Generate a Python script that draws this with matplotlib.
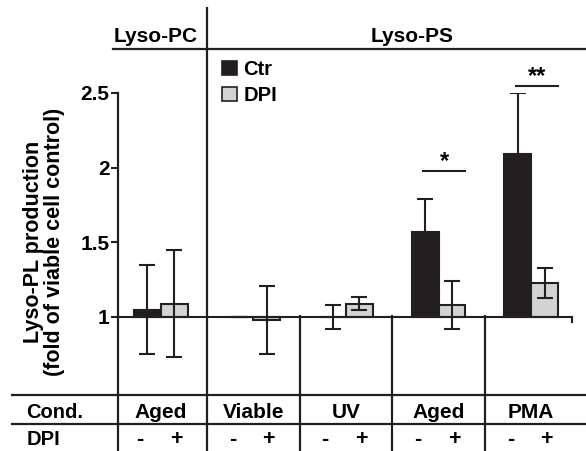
import matplotlib.pyplot as plt
from matplotlib.lines import Line2D
from matplotlib.patches import Patch
from matplotlib.transforms import blended_transform_factory

plt.rcParams['font.family'] = ['Liberation Sans', 'DejaVu Sans']
plt.rcParams['font.weight'] = 'bold'

# Data (fold of viable cell control)
conditions = ["Aged", "Viable", "UV", "Aged", "PMA"]
ctr_mean = [1.05, 1.00, 1.00, 1.57, 2.09]
ctr_err = [0.30, 0.00, 0.08, 0.22, 0.41]
dpi_mean = [1.09, 0.98, 1.09, 1.08, 1.23]
dpi_err = [0.36, 0.23, 0.045, 0.16, 0.10]
dpi_signs = ["-", "+"]
yticks = [1, 1.5, 2, 2.5]
ytick_labels = ["1", "1.5", "2", "2.5"]
signif_groups = [3, 4]
signif_labels = ["*", "**"]
signif_heights = [1.98, 2.55]

DARK = "#231f20"
LIGHT = "#d1d3d4"
W, H = 586, 451


def fx(p):
    return p / W


def fy(p):
    return 1 - p / H


fig = plt.figure(figsize=(W / 100, H / 100), dpi=100)
ax = fig.add_axes([fx(118), 0, fx(572) - fx(118), fy(93)])
ax.set_xlim(-0.462, 4.44)
ax.set_ylim(0.1025, 2.5)

x = list(range(len(conditions)))
bw = 0.29
x_ctr = [i - bw / 2 for i in x]
x_dpi = [i + bw / 2 for i in x]

ax.bar(x_ctr, [m - 1 for m in ctr_mean], bw, bottom=1, color=DARK,
       edgecolor=DARK, linewidth=1.5, zorder=2)
ax.bar(x_dpi, [m - 1 for m in dpi_mean], bw, bottom=1, color=LIGHT,
       edgecolor=DARK, linewidth=1.5, zorder=2)
ax.errorbar(x_ctr, ctr_mean, yerr=ctr_err, fmt="none", ecolor=DARK,
            elinewidth=1.5, capsize=6, capthick=1.5, zorder=3)
ax.errorbar(x_dpi, dpi_mean, yerr=dpi_err, fmt="none", ecolor=DARK,
            elinewidth=1.5, capsize=6, capthick=1.5, zorder=3)

# baseline at 1 + little end tick
x0, x1 = ax.get_xlim()
y0, y1 = ax.get_ylim()
ax.plot([x0, x1], [1, 1], color=DARK, lw=1.5, clip_on=False, zorder=4)
ax.plot([x1, x1], [1, 0.965], color=DARK, lw=1.5, clip_on=False, zorder=4)

# axes styling
for s in ["top", "right", "bottom"]:
    ax.spines[s].set_visible(False)
ax.spines["left"].set_linewidth(1.6)
ax.spines["left"].set_color(DARK)
ax.set_xticks([])
ax.set_yticks(yticks)
ax.set_yticklabels(ytick_labels, fontsize=15, fontweight="bold")
ax.tick_params(axis="y", length=5, width=1.5, color=DARK, pad=1)

# group dividers
trans = blended_transform_factory(ax.transData, fig.transFigure)
ax.add_line(Line2D([0.5, 0.5], [fy(8), 0], transform=trans, color=DARK,
                   lw=1.6, clip_on=False))
ax.vlines([1.5, 2.5, 3.5], y0, 1.015, color=DARK, lw=1.6, zorder=4)

# table / header lines
for yy, xl in [(49, 113), (395, 12), (424, 12)]:
    fig.add_artist(Line2D([fx(xl), 1], [fy(yy), fy(yy)], color=DARK, lw=1.6))

# headers
fig.text(fx(156), fy(41.5), "Lyso-PC", ha="center", va="baseline", fontsize=15)
fig.text(fx(412), fy(41.5), "Lyso-PS", ha="center", va="baseline", fontsize=15)

# y label
fig.text(fx(44), fy(242), "Lyso-PL production\n(fold of viable cell control)",
         rotation=90, ha="center", va="center", fontsize=15.5,
         linespacing=0.95)

# table rows
fig.text(fx(55), fy(418), "Cond.", ha="center", va="baseline", fontsize=14.5)
fig.text(fx(43), fy(439.5), "DPI", ha="center", va="center", fontsize=14.5)
for i, c in enumerate(conditions):
    ax.text(i, fy(418), c, transform=trans, ha="center", va="baseline",
            fontsize=15)
    for k, sgn in enumerate(dpi_signs):
        ax.text(i + (k - 0.5) * 0.39 - 0.03, fy(439.5), sgn, transform=trans,
                ha="center", va="center", fontsize=15.5)

# significance
for g, lab, h in zip(signif_groups, signif_labels, signif_heights):
    ax.plot([g + 0.06 - 0.23, g + 0.06 + 0.23], [h, h], color=DARK, lw=1.5,
            clip_on=False)
    ax.text(g + 0.06, h + 0.02, lab, ha="center", va="baseline", fontsize=17)

# legend
handles = [Patch(facecolor=DARK, edgecolor=DARK, lw=1.2),
           Patch(facecolor=LIGHT, edgecolor=DARK, lw=1.2)]
ax.legend(handles, ["Ctr", "DPI"], loc="upper left",
          bbox_to_anchor=(fx(222), fy(60)), bbox_transform=fig.transFigure,
          frameon=False, handlelength=0.75, handleheight=0.75,
          handletextpad=0.3, labelspacing=0.35, borderpad=0,
          borderaxespad=0, prop={"size": 14.5, "weight": "bold"})

fig.savefig("out.png", dpi=100)
